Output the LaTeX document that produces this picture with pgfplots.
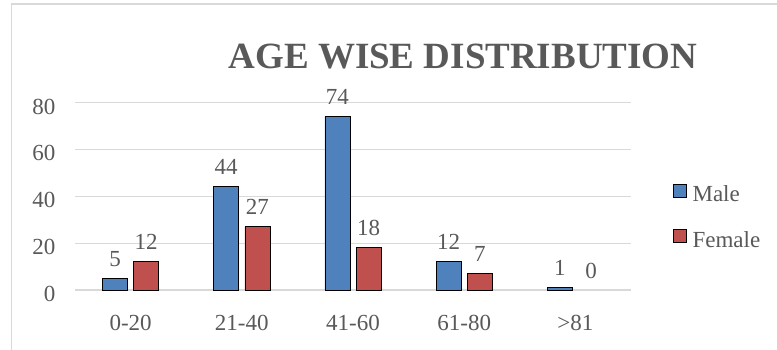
\documentclass[border=0pt]{standalone}
\usepackage{fontspec}
\setmainfont{Liberation Serif}
\usepackage{pgfplots}
\pgfplotsset{compat=1.18}
\definecolor{mblue}{HTML}{4F81BD}
\definecolor{mred}{HTML}{C0504D}
\definecolor{txt}{HTML}{595959}
\definecolor{gridc}{HTML}{D9D9D9}
\begin{document}
\begin{tikzpicture}[x=1pt,y=1pt]
\useasboundingbox (0,0) rectangle (777,349);
\fill[white] (0,0) rectangle (777,349);
\draw[gridc, line width=1.2pt] (11.7,-10) -- (11.7,345) -- (790,345);
\node[text=txt, font=\fontsize{37}{44}\selectfont\bfseries] at (463,292) {AGE WISE DISTRIBUTION};
\begin{axis}[
  at={(75pt,59pt)}, anchor=south west,
  scale only axis, width=556pt, height=187.5pt,
  xmin=-0.5, xmax=4.5, ymin=0, ymax=80,
  ytick={0,20,40,60,80},
  xtick={0,1,2,3,4},
  xticklabels={0-20,21-40,41-60,61-80,>81},
  axis line style={draw=none},
  major tick length=0pt,
  ymajorgrids, grid style={gridc, line width=1.2pt},
  ticklabel style={text=txt, font=\fontsize{23}{27}\selectfont},
  /pgf/number format/assume math mode=true,
  yticklabel style={xshift=-16pt, yshift=-4pt},
  xticklabel style={yshift=-22pt},
  ybar, bar width=25pt,
  nodes near coords,
  every node near coord/.append style={text=txt, font=\fontsize{23}{27}\selectfont, anchor=south, inner sep=0pt, yshift=11.5pt},
  legend style={draw=none, fill=none, at={(1.0755,0.565)}, anchor=north west,
    inner sep=0pt, row sep=26pt, font=\fontsize{23}{27}\selectfont, text=txt,
    nodes={inner sep=0pt}},
  legend cell align=left,
  legend image code/.code={\path[draw=none, fill=none] (0pt,0pt) -- (19pt,0pt); \draw[#1, draw=black, line width=0.8pt] (0pt,-3pt) rectangle (13pt,10pt);},
]
\addplot[fill=mblue, draw=black, line width=0.8pt, bar shift=-15.6pt] coordinates {(0,5) (1,44) (2,74) (3,12) (4,1)};
\addlegendentry{Male}
\addplot[fill=mred, draw=black, line width=0.8pt, bar shift=15.6pt] coordinates {(0,12) (1,27) (2,18) (3,7)};
\addlegendentry{Female}
\addplot[draw=none, fill=none, bar shift=15.6pt, forget plot] coordinates {(4,0)};
\end{axis}
\end{tikzpicture}
\end{document}
